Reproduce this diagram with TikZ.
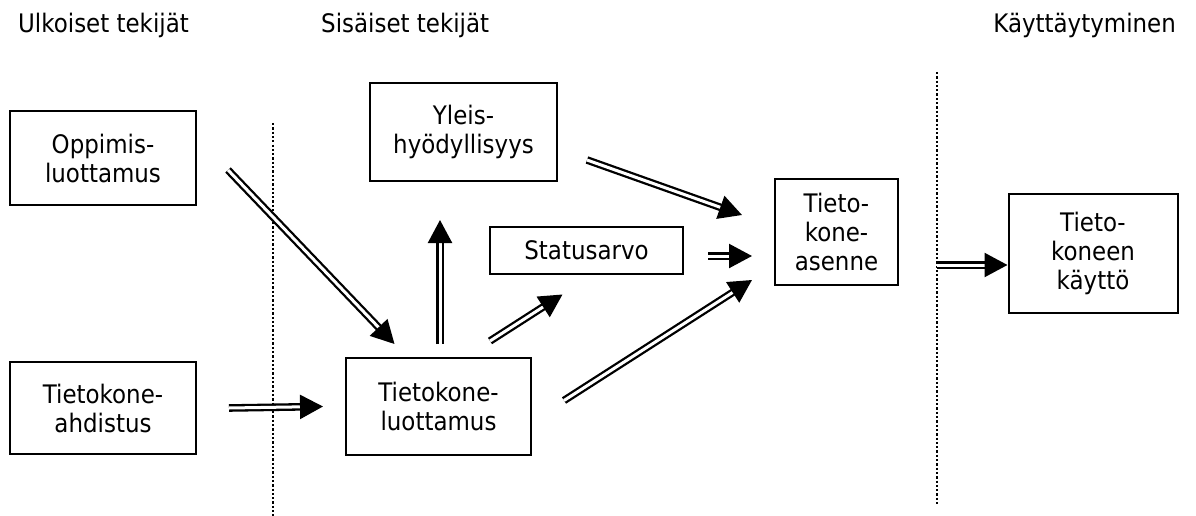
\documentclass[tikz,border=0pt]{standalone}
\usepackage{fontspec}
\setmainfont{DejaVu Sans}[FakeStretch=0.9]
\usetikzlibrary{arrows.meta,calc}

\begin{document}
\begin{tikzpicture}[x=1pt, y=-1pt,
    box/.style={draw, line width=2pt, inner sep=0pt, align=center,
        font=\fontsize{25.5}{29}\selectfont},
    head/.style={inner sep=0pt, font=\fontsize{25.5}{29}\selectfont},
    dbl/.style={double, double distance=3pt, line width=2.3pt,
        -{Triangle[length=23pt, width=24pt]}},
    sep/.style={line width=2.6pt, dash pattern=on 2.3pt off 2pt}]
    \useasboundingbox (0,0) rectangle (1196,516);

    % Headings
    \node[head, anchor=west] (ulk) at (18,25) {Ulkoiset tekijät};
    \node[head, anchor=west] (sis) at (321,25) {Sisäiset tekijät};
    \node[head, anchor=east] (kay) at (1176,25) {Käyttäytyminen};

    % Separators
    \draw[sep] (273,123) -- (273,516);
    \draw[sep] (937,72) -- (937,505);
    \coordinate (raja) at (937,265);

    % Outer factors
    \node[box, minimum width=186pt, minimum height=94pt] (oppimis) at (103,158) {Oppimis-\\luottamus};
    \node[box, minimum width=186pt, minimum height=92pt] (ahdistus) at (103,408) {Tietokone-\\ahdistus};

    % Inner factors
    \node[box, minimum width=187pt, minimum height=98pt] (yleis) at (463.5,132) {Yleis-\\hyödyllisyys};
    \node[box, minimum width=193pt, minimum height=47pt] (status) at (586.5,250) {Statusarvo};
    \node[box, minimum width=185pt, minimum height=97pt] (luottamus) at (438.5,406.5) {Tietokone-\\luottamus};
    \node[box, minimum width=123pt, minimum height=106pt] (asenne) at (836.5,232) {Tieto-\\kone-\\asenne};

    % Behaviour
    \node[box, minimum width=169pt, minimum height=119pt] (kaytto) at (1093,253) {Tieto-\\koneen\\käyttö};

    % Arrows
    \draw[dbl] ([shift={(31,12)}]oppimis.east) -- ([shift={(-44,-13)}]luottamus.north);
    \draw[dbl] ([xshift=32pt]ahdistus.east) -- ([xshift=-22pt]luottamus.west);
    \draw[dbl] ([shift={(1.5,-13)}]luottamus.north) -- ([shift={(-23.5,38)}]yleis.south);
    \draw[dbl] ([shift={(51.5,-16)}]luottamus.north) -- ([shift={(-24,20)}]status.south);
    \draw[dbl] ([shift={(32,-6)}]luottamus.east) -- ([shift={(-22,48)}]asenne.west);
    \draw[dbl] ([shift={(29,28)}]yleis.east) -- ([shift={(-32,-17)}]asenne.west);
    \draw[dbl] ([shift={(24,6)}]status.east) -- ([shift={(-22,24)}]asenne.west);
    \draw[dbl] (raja) -- ([yshift=-12pt]kaytto.west);

\end{tikzpicture}
\end{document}
